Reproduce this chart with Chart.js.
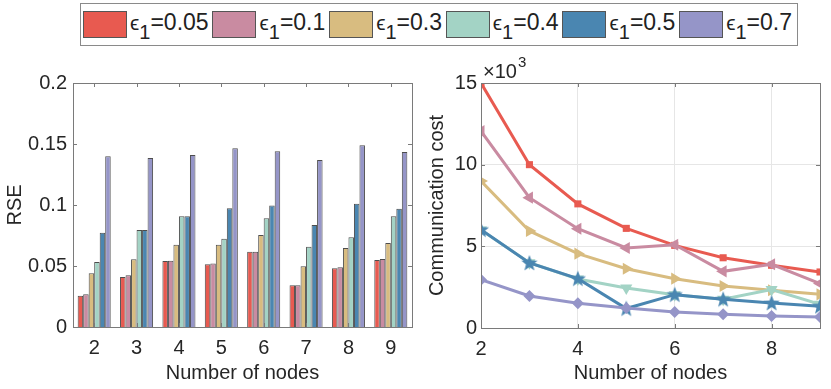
<!DOCTYPE html>
<html>
<head>
<meta charset="utf-8">
<script src="https://cdn.jsdelivr.net/npm/chart.js@4.4.1/dist/chart.umd.min.js"></script>
<style>
  body { margin: 0; background: #fff; width: 831px; height: 389px; position: relative; overflow: hidden; font-family: "Liberation Sans", Arial, sans-serif; }
  #legend { position: absolute; left: 80px; top: 3px; width: 718px; height: 43px; border: 1px solid #8a8a8a; display: flex; align-items: center; justify-content: space-between; padding: 0 5px 0 2px; box-sizing: border-box; }
  .item { display: flex; align-items: center; }
  .swatch { width: 44px; height: 27px; border: 1px solid #555; box-sizing: border-box; margin-right: 3px; }
  .lbl { font-size: 23px; color: #222; white-space: nowrap; position: relative; top: -2px; }
  .lbl .eps { font-size: 21px; }
  .lbl sub { font-size: 20px; vertical-align: -9px; line-height: 0; }
  #left { position: absolute; left: 0; top: 50px; }
  #right { position: absolute; left: 415px; top: 50px; }
</style>
</head>
<body>
<div id="legend"></div>
<canvas id="left" width="415" height="339"></canvas>
<canvas id="right" width="416" height="339"></canvas>
<script>
// valori
const nodes = ['2', '3', '4', '5', '6', '7', '8', '9'];
const epsValues = ['0.05', '0.1', '0.3', '0.4', '0.5', '0.7'];
const colors = ['#E85A50', '#C98BA1', '#D8BC80', '#A3D3C5', '#4A86B1', '#9595C8'];

// RSE (grafico a barre)
const rse005 = [0.0257, 0.041, 0.054, 0.0514, 0.0617, 0.0342, 0.0481, 0.0549];
const rse01 = [0.0268, 0.0424, 0.0543, 0.052, 0.0617, 0.0342, 0.0489, 0.0557];
const rse03 = [0.044, 0.0555, 0.0675, 0.0675, 0.0754, 0.0497, 0.0648, 0.0689];
const rse04 = [0.0533, 0.0795, 0.0907, 0.0724, 0.0891, 0.0658, 0.0735, 0.0907];
const rse05 = [0.0773, 0.0795, 0.0907, 0.0973, 0.0995, 0.0836, 0.101, 0.097];
const rse07 = [0.140, 0.1385, 0.141, 0.1465, 0.144, 0.1369, 0.149, 0.1434];

// costo di comunicazione (x10^3)
const nodeCount = [2, 3, 4, 5, 6, 7, 8, 9];
const cost005 = [15, 10, 7.6, 6.1, 5.06, 4.3, 3.84, 3.43];
const cost01 = [12.05, 7.98, 6.08, 4.9, 5.1, 3.47, 3.9, 2.72];
const cost03 = [9.0, 5.94, 4.55, 3.63, 3.02, 2.57, 2.31, 2.06];
const cost04 = [6.0, 4.0, 3.0, 2.45, 2.04, 1.76, 2.35, 1.45];
const cost05 = [6.02, 3.98, 3.02, 1.19, 2.04, 1.76, 1.53, 1.33];
const cost07 = [2.96, 1.96, 1.51, 1.22, 0.98, 0.84, 0.74, 0.67];

const rseSeries = [rse005, rse01, rse03, rse04, rse05, rse07];
const costSeries = [cost005, cost01, cost03, cost04, cost05, cost07];

const font = "'Liberation Sans', Arial, sans-serif";
const textColor = '#262626';

// legenda comune
const legend = document.getElementById('legend');
epsValues.forEach((v, i) => {
  const item = document.createElement('div');
  item.className = 'item';
  item.innerHTML = `<div class="swatch" style="background:${colors[i]}"></div>
    <span class="lbl"><span class="eps">ϵ</span><sub>1</sub>=${v}</span>`;
  legend.appendChild(item);
});

// stella piena per la serie 0.5
function makeStar(color) {
  const c = document.createElement('canvas');
  c.width = 18; c.height = 18;
  const g = c.getContext('2d');
  g.beginPath();
  for (let k = 0; k < 10; k++) {
    const r = k % 2 === 0 ? 8.5 : 3.6;
    const a = -Math.PI / 2 + k * Math.PI / 5;
    const px = 9 + r * Math.cos(a), py = 9.5 + r * Math.sin(a);
    if (k === 0) g.moveTo(px, py); else g.lineTo(px, py);
  }
  g.closePath();
  g.fillStyle = color;
  g.fill();
  return c;
}

// riquadro e tacche interne stile MATLAB
const boxPlugin = {
  id: 'box',
  afterDraw(chart) {
    const { ctx, chartArea: a, scales } = chart;
    ctx.save();
    ctx.strokeStyle = '#7a7a7a';
    ctx.lineWidth = 1;
    ctx.strokeRect(Math.round(a.left) + 0.5, Math.round(a.top) + 0.5, Math.round(a.right - a.left), Math.round(a.bottom - a.top));
    ctx.beginPath();
    scales.x.ticks.forEach((t, i) => {
      const px = Math.round(scales.x.getPixelForTick(i)) + 0.5;
      ctx.moveTo(px, a.bottom); ctx.lineTo(px, a.bottom - 4);
      ctx.moveTo(px, a.top); ctx.lineTo(px, a.top + 4);
    });
    scales.y.ticks.forEach((t, i) => {
      const py = Math.round(scales.y.getPixelForTick(i)) + 0.5;
      ctx.moveTo(a.left, py); ctx.lineTo(a.left + 4, py);
      ctx.moveTo(a.right, py); ctx.lineTo(a.right - 4, py);
    });
    ctx.stroke();
    if (chart.options.plugins.box && chart.options.plugins.box.exponent) {
      ctx.fillStyle = textColor;
      ctx.font = `20px ${font}`;
      ctx.textBaseline = 'alphabetic';
      ctx.fillText('×10', a.left + 2, a.top - 5);
      const w = ctx.measureText('×10').width;
      ctx.font = `15px ${font}`;
      ctx.fillText('3', a.left + 3 + w, a.top - 16);
    }
    ctx.restore();
  }
};

const tickFont = { family: font, size: 20 };
const titleFont = { family: font, size: 20 };

new Chart(document.getElementById('left'), {
  type: 'bar',
  data: {
    labels: nodes,
    datasets: rseSeries.map((s, i) => ({
      label: epsValues[i],
      data: s,
      backgroundColor: colors[i],
      borderColor: '#4d4d4d',
      borderWidth: 1,
      categoryPercentage: 0.78,
      barPercentage: 1.0,
    })),
  },
  options: {
    responsive: false,
    animation: false,
    layout: { padding: { top: 33, right: 3 } },
    plugins: { legend: { display: false }, tooltip: { enabled: false } },
    scales: {
      x: {
        grid: { display: false, drawTicks: false },
        border: { display: false },
        ticks: { color: textColor, font: tickFont, padding: 9 },
        title: { display: true, text: 'Number of nodes', color: textColor, font: titleFont, padding: { top: 2, bottom: 4 } },
        afterFit(s) { s.height = 62; },
      },
      y: {
        min: 0, max: 0.2,
        grid: { display: false, drawTicks: false },
        border: { display: false },
        ticks: { stepSize: 0.05, color: textColor, font: tickFont, padding: 6, callback: (v) => String(+v.toFixed(2)) },
        title: { display: true, text: 'RSE', color: textColor, font: titleFont, padding: { top: 3, bottom: 0 } },
        afterFit(s) { s.width = 73; },
      },
    },
  },
  plugins: [boxPlugin],
});

const pointStyles = ['rect', 'triangle', 'triangle', 'triangle', makeStar(colors[4]), 'rectRot'];
const rotations = [0, -90, 90, 180, 0, 0];
const radii = [5, 7, 7, 7, 9, 6];

new Chart(document.getElementById('right'), {
  type: 'line',
  data: {
    datasets: costSeries.map((s, i) => ({
      label: epsValues[i],
      data: s.map((v, k) => ({ x: nodeCount[k], y: v })),
      borderColor: colors[i],
      backgroundColor: colors[i],
      borderWidth: 3,
      pointStyle: pointStyles[i],
      pointRotation: rotations[i],
      pointRadius: radii[i],
      pointBorderWidth: 0,
      order: costSeries.length - i,
      tension: 0,
    })),
  },
  options: {
    responsive: false,
    animation: false,
    layout: { padding: { top: 33, right: 11 } },
    plugins: { legend: { display: false }, tooltip: { enabled: false }, box: { exponent: true } },
    scales: {
      x: {
        type: 'linear', min: 2, max: 9,
        grid: { color: '#e6e6e6', drawTicks: false },
        border: { display: false },
        ticks: { stepSize: 2, includeBounds: false, color: textColor, font: tickFont, padding: 9 },
        title: { display: true, text: 'Number of nodes', color: textColor, font: titleFont, padding: { top: 2, bottom: 4 } },
        afterFit(s) { s.height = 61; },
      },
      y: {
        min: 0, max: 15,
        grid: { color: '#e6e6e6', drawTicks: false },
        border: { display: false },
        ticks: { stepSize: 5, color: textColor, font: tickFont, padding: 4 },
        title: { display: true, text: 'Communication cost', color: textColor, font: titleFont, padding: { top: 10, bottom: 0 } },
        afterFit(s) { s.width = 66; },
      },
    },
  },
  plugins: [boxPlugin],
});
</script>
</body>
</html>
